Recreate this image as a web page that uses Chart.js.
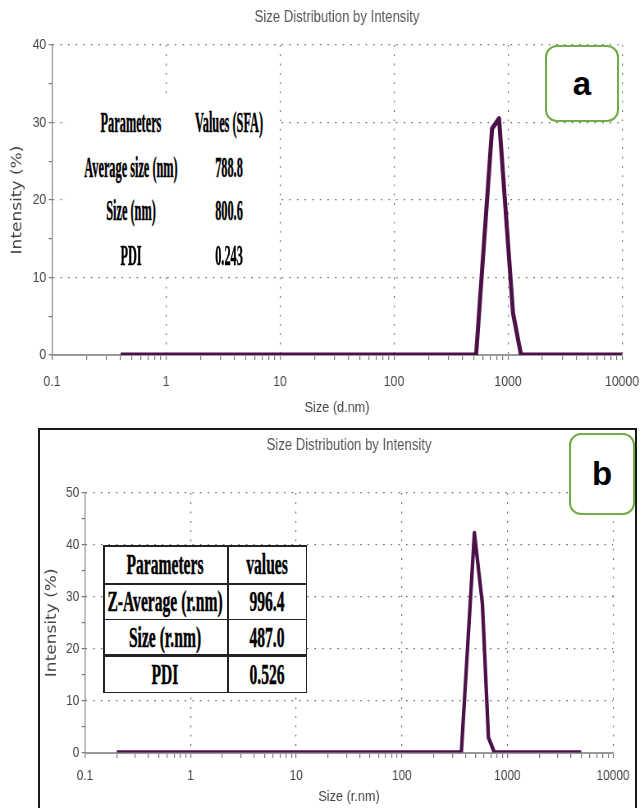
<!DOCTYPE html>
<html>
<head>
<meta charset="utf-8">
<script src="https://cdn.jsdelivr.net/npm/chart.js@4.4.0/dist/chart.umd.min.js"></script>
<style>
  html, body { margin: 0; padding: 0; background: #fff; overflow: hidden; }
  body { width: 644px; height: 808px; position: relative; }
  /* the source picture is squeezed sideways, so draw wide and squeeze too */
  canvas { position: absolute; left: 0; transform-origin: 0 0; transform: scaleX(0.8204); }
  #chartA { top: 0; }
  #chartB { top: 428px; }
  .frame { position: absolute; left: 38px; top: 428px; width: 599px; height: 400px; border: 2px solid #1a1a1a; box-sizing: border-box; }
  .cover { position: absolute; background: #fff; }
  .rule { position: absolute; background: #222; }
  .txt { position: absolute; font-family: "Liberation Serif", "Times New Roman", serif; font-weight: bold; font-size: 30px; line-height: 1;
         color: #000; white-space: nowrap; -webkit-text-stroke: 0.5px #000; }
  .tag { position: absolute; border: 2.5px solid #70ad47; border-radius: 12px; background: #fff; box-sizing: border-box;
         font: bold 33px "Liberation Sans", Arial, sans-serif; color: #000; display: flex; align-items: center; justify-content: center; }
</style>
</head>
<body>
<canvas id="chartA" width="785" height="420"></canvas>
<canvas id="chartB" width="785" height="380"></canvas>
<div id="overlay"></div>
<script>
// x axis decades (log scale)
const xMajorTicks = [0.1, 1, 10, 100, 1000, 10000];

// panel a - Size (d.nm) vs Intensity (%)
const sizeA = [0.4, 525, 724, 834, 1106, 1300, 10000];
const intensityA = [0, 0, 29.2, 30.5, 5.4, 0, 0];
const yTicksA = [0, 10, 20, 30, 40];
const paramsA = ['Parameters', 'Average size (nm)', 'Size (nm)', 'PDI'];
const valuesA = ['Values (SFA)', '788.8', '800.6', '0.243'];

// panel b - Size (r.nm) vs Intensity (%)
const sizeB = [0.2, 366, 487, 580, 661, 753, 5000];
const intensityB = [0, 0, 42.3, 28.6, 2.9, 0, 0];
const yTicksB = [0, 10, 20, 30, 40, 50];
const paramsB = ['Parameters', 'Z-Average (r.nm)', 'Size (r.nm)', 'PDI'];
const valuesB = ['values', '996.4', '487.0', '0.526'];

const LINE_COLOR = '#4b1048';
const GRID_COLOR = '#6a6a6a';
const SANS = '"Liberation Sans", Arial, sans-serif';

// decades are major, 2..9 in between are minor (tick marks only)
function buildLogTicks(scale) {
  const ticks = [];
  xMajorTicks.forEach((d, i) => {
    ticks.push({ value: d, major: true });
    if (i < xMajorTicks.length - 1) {
      for (let k = 2; k <= 9; k++) ticks.push({ value: d * k, major: false });
    }
  });
  scale.ticks = ticks;
}

function buildLinTicks(majors) {
  return scale => {
    const ticks = [];
    majors.forEach((v, i) => {
      ticks.push({ value: v, major: true });
      if (i < majors.length - 1) ticks.push({ value: (v + majors[i + 1]) / 2, major: false });
    });
    scale.ticks = ticks;
  };
}

const gridColor = c => (c.tick && c.tick.major ? GRID_COLOR : 'rgba(0,0,0,0)');

function drawPanel(id, sizes, values, yMajors, xTitle, box) {
  const ctx = document.getElementById(id).getContext('2d');
  return new Chart(ctx, {
    type: 'line',
    data: {
      datasets: [{
        data: sizes.map((s, i) => ({ x: s, y: values[i] })),
        borderColor: LINE_COLOR,
        borderWidth: box.lineWidth,
        borderJoinStyle: 'round',
        pointRadius: 0,
        tension: 0,
        fill: false
      }]
    },
    options: {
      responsive: false,
      animation: false,
      devicePixelRatio: 1,
      layout: { padding: { top: 0, left: 0, right: box.padRight, bottom: 0 } },
      plugins: {
        legend: { display: false },
        tooltip: { enabled: false },
        title: {
          display: true,
          text: 'Size Distribution by Intensity',
          fullSize: false,
          color: '#555',
          font: { family: SANS, size: 16, weight: 'normal' },
          padding: { top: 8.4, bottom: box.titleBottom }
        }
      },
      scales: {
        x: {
          type: 'logarithmic',
          min: xMajorTicks[0],
          max: xMajorTicks[xMajorTicks.length - 1],
          afterBuildTicks: buildLogTicks,
          afterFit: s => { s.height = box.xHeight; },
          ticks: {
            autoSkip: false,
            maxRotation: 0,
            padding: 4,
            color: '#444',
            font: { family: SANS, size: box.tickSize },
            callback: (v, i, t) => (t[i].major ? String(v) : '')
          },
          // long tick length keeps the labels low; only the first 4px are drawn
          grid: { color: gridColor, lineWidth: 1.2, tickColor: '#777', tickLength: box.xTickLen, tickBorderDash: [4, 60] },
          border: { display: true, color: '#999', width: 2, dash: [1.8, 7.5] },
          title: {
            display: true, text: xTitle, color: '#444',
            font: { family: SANS, size: 15.5 },
            padding: { top: 0, bottom: box.xTitlePad }
          }
        },
        y: {
          min: yMajors[0],
          max: yMajors[yMajors.length - 1],
          afterBuildTicks: buildLinTicks(yMajors),
          afterFit: s => { s.width = box.yWidth; },
          ticks: {
            padding: 3,
            color: '#444',
            font: { family: SANS, size: box.tickSize },
            callback: (v, i, t) => (t[i].major ? String(v) : '')
          },
          grid: { color: gridColor, lineWidth: 1.2, tickColor: '#777', tickLength: 4 },
          border: { display: true, color: '#888', width: 1.3, dash: [1.8, 7.5] },
          title: {
            display: true, text: 'Intensity (%)', color: '#444',
            font: { family: '"DejaVu Sans", sans-serif', size: 17 },
            padding: { top: box.yTitlePad, bottom: 0 }
          }
        }
      }
    }
  });
}

drawPanel('chartA', sizeA, intensityA, yTicksA, 'Size (d.nm)', {
  lineWidth: 5, padRight: 26.8, titleBottom: 17.4, xHeight: 65, xTickLen: 14.3,
  tickSize: 15, xTitlePad: 2.7, yWidth: 63.4, yTitlePad: 11.7
});

drawPanel('chartB', sizeB, intensityB, yTicksB, 'Size (r.nm)', {
  lineWidth: 4.3, padRight: 37.8, titleBottom: 37.4, xHeight: 55.5, xTickLen: 11,
  tickSize: 14.5, xTitlePad: 1.7, yWidth: 103.6, yTitlePad: 53
});

// --- overlays: parameter tables and panel tags ---
const overlay = document.getElementById('overlay');

function addDiv(cls, css, text) {
  const d = document.createElement('div');
  d.className = cls;
  Object.assign(d.style, css);
  if (text !== undefined) d.textContent = text;
  overlay.appendChild(d);
  return d;
}

function addText(text, cx, cy, squeeze) {
  addDiv('txt', { left: cx + 'px', top: cy + 'px', transform: `translate(-50%, -50%) scaleX(${squeeze})` }, text);
}

// table a: plain text on a white patch
addDiv('cover', { left: '68px', top: '98px', width: '209px', height: '172px' });
[122, 167, 210, 255].forEach((y, i) => {
  addText(paramsA[i], 131, y, 0.41);
  addText(valuesA[i], 229, y, 0.41);
});

// table b: ruled table
addDiv('cover', { left: '103px', top: '545px', width: '204px', height: '148px' });
addDiv('rule', { left: '103px', top: '545px', width: '204px', height: '1.5px' });
addDiv('rule', { left: '103px', top: '691.5px', width: '204px', height: '1.5px' });
addDiv('rule', { left: '103px', top: '545px', width: '1.5px', height: '148px' });
addDiv('rule', { left: '305.5px', top: '545px', width: '1.5px', height: '148px' });
addDiv('rule', { left: '227px', top: '545px', width: '1.5px', height: '148px' });
addDiv('rule', { left: '103px', top: '582.5px', width: '204px', height: '2px' });
addDiv('rule', { left: '103px', top: '618.5px', width: '204px', height: '1.5px' });
addDiv('rule', { left: '103px', top: '654px', width: '204px', height: '2.5px' });
[564, 601, 637, 674].forEach((y, i) => {
  addText(paramsB[i], 165, y, 0.52);
  addText(valuesB[i], 267, y, 0.52);
});

// frame round panel b
addDiv('frame', {});

// panel tags
addDiv('tag', { left: '545px', top: '45px', width: '74px', height: '77px' }, 'a');
addDiv('tag', { left: '569px', top: '433px', width: '66px', height: '82px' }, 'b');
</script>
</body>
</html>
